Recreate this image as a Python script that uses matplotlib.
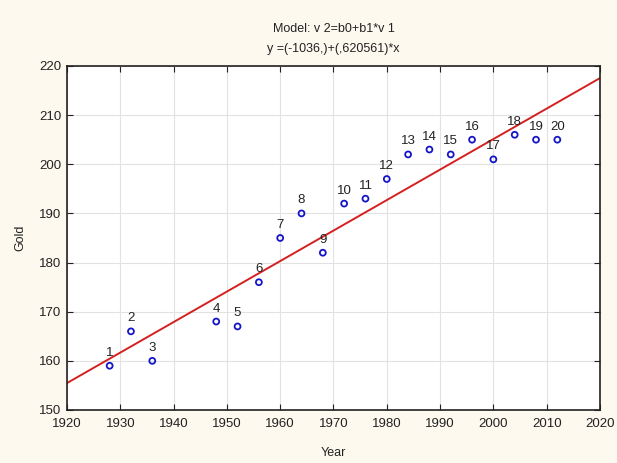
import matplotlib.pyplot as plt
import numpy as np

# Daten: Jahr und Goldwert je Punkt
year = [1928, 1932, 1936, 1948, 1952, 1956, 1960, 1964, 1968, 1972,
        1976, 1980, 1984, 1988, 1992, 1996, 2000, 2004, 2008, 2012]
gold = [159, 166, 160, 168, 167, 176, 185, 190, 182, 192,
        193, 197, 202, 203, 202, 205, 201, 206, 205, 205]
point_labels = [str(i) for i in range(1, 21)]

# Regressionskoeffizienten aus dem Titel
b0 = -1036.0
b1 = 0.620561

bg = "#fdf9ee"
plt.rcParams["font.family"] = ["Liberation Sans", "DejaVu Sans"]

fig = plt.figure(figsize=(6.17, 4.63), dpi=100, facecolor=bg)
ax = fig.add_axes([0.1086, 0.1145, 0.8638, 0.743])
ax.set_facecolor("white")

ax.grid(True, color="#e2e2e2", linewidth=0.8)
ax.set_axisbelow(True)

xs = np.array([1920, 2020])
ax.plot(xs, b0 + b1 * xs, color="#d42020", linewidth=1.4, zorder=2)

ax.scatter(year, gold, s=18, facecolors="none", edgecolors="#1515c8",
           linewidths=1.3, zorder=3)
for x, y, lab in zip(year, gold, point_labels):
    ax.annotate(lab, (x, y), xytext=(0, 5), textcoords="offset points",
                ha="center", va="bottom", fontsize=9.5, color="#222222")

ax.set_xlim(1920, 2020)
ax.set_ylim(150, 220)
ax.set_xticks(range(1920, 2021, 10))
ax.set_yticks(range(150, 221, 10))
ax.tick_params(direction="in", top=True, right=True, length=4,
               labelsize=9.5, colors="#222222")
ax.tick_params(axis="x", pad=6)
ax.tick_params(axis="y", pad=4)
for sp in ax.spines.values():
    sp.set_linewidth(1.2)
    sp.set_color("#222222")

ax.set_xlabel("Year", fontsize=9, labelpad=12, color="#222222")
ax.set_ylabel("Gold", fontsize=9, labelpad=9, color="#222222")
ax.set_title("Model: v 2=b0+b1*v 1\ny =(-1036,)+(,620561)*x",
             fontsize=9, linespacing=1.9, pad=10, color="#222222")

fig.savefig("out.png", dpi=100, facecolor=bg)
